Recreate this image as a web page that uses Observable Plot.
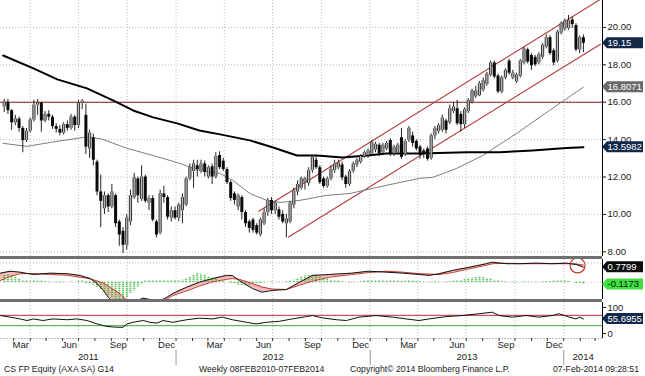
<!DOCTYPE html>
<html><head><meta charset="utf-8">
<script src="https://cdn.jsdelivr.net/npm/d3@7"></script>
<script src="https://cdn.jsdelivr.net/npm/@observablehq/plot@0.6"></script>
<style>
body{margin:0;background:#fff;}
#chart{position:relative;width:645px;height:376px;overflow:hidden;font-family:"Liberation Sans",Arial,sans-serif;}
#chart svg{position:absolute;left:0;}
.bar{position:absolute;left:0;width:602px;height:3px;background:#6f6f6f}
.foot{position:absolute;top:364px;font-size:8.7px;color:#1a1a1a;white-space:nowrap;line-height:10px}
</style></head><body><div id="chart"></div>
<script>
// ---------- data ----------
const firstWeek = "2011-02-11"; // weekly candles, one per week
const opens = [15.75,16.0,15.55,14.9,15.1,14.6,13.95,14.45,15.05,15.85,15.95,15.0,15.35,15.2,14.7,14.55,14.35,14.8,14.6,15.2,14.75,15.95,15.3,13.5,14.1,12.8,11.2,10.3,11.0,10.4,11.0,9.6,9.1,8.35,9.6,10.9,11.9,10.8,12.0,10.6,10.85,9.6,9.0,11.1,10.9,9.8,10.2,9.8,10.2,10.5,11.9,12.3,12.6,12.3,12.7,12.0,12.55,12.0,13.15,12.85,12.4,11.7,11.1,10.4,10.9,10.1,9.6,9.7,9.4,8.9,9.5,10.1,10.75,10.2,10.25,10.0,9.5,9.6,10.5,11.2,11.4,11.7,11.65,12.35,12.9,12.5,11.9,11.5,11.9,12.35,12.5,12.65,12.0,11.6,12.3,12.65,12.8,13.1,13.15,13.25,13.45,13.7,13.3,13.5,13.95,13.25,13.3,14.1,13.2,13.95,14.2,13.9,13.6,13.4,13.5,13.0,14.2,14.45,14.5,15.0,14.9,15.5,15.65,15.35,14.8,15.5,16.0,16.3,16.35,16.65,16.95,17.45,18.1,17.4,16.55,17.3,18.2,17.3,17.1,17.4,18.1,18.8,18.5,18.4,18.1,18.4,18.95,19.45,18.75,18.2,19.7,19.9,19.95,20.4,20.1,18.8,19.45];
const highs = [16.15,16.15,15.6,15.3,15.2,14.7,14.6,15.15,16.1,16.15,16.0,15.5,15.55,15.3,14.85,14.75,14.9,15.0,15.35,15.3,16.1,16.15,15.9,14.5,14.3,12.9,12.1,11.2,11.1,11.6,11.1,9.7,9.3,10.0,11.3,12.2,12.0,12.6,12.1,11.0,11.0,9.7,11.3,11.5,11.0,10.4,10.4,10.6,11.1,12.0,12.7,12.9,12.9,12.9,12.85,12.6,12.7,13.3,13.35,13.0,12.5,11.8,11.2,11.1,11.0,10.2,9.7,9.8,9.5,9.8,10.3,10.85,10.9,10.7,10.4,10.2,10.0,10.7,11.4,11.8,12.0,12.0,12.5,13.15,13.1,12.6,12.0,12.0,12.6,12.9,12.9,12.8,12.1,12.4,12.8,13.0,13.2,13.4,13.5,13.95,13.85,13.8,13.8,13.9,14.05,13.7,13.8,14.6,14.0,14.7,14.4,14.0,13.7,13.5,13.6,14.3,14.7,14.85,15.3,15.1,15.85,16.0,16.1,15.5,15.7,16.2,16.7,16.85,17.1,17.3,17.6,18.2,18.2,17.5,17.4,17.8,18.3,17.7,17.55,18.3,18.95,18.9,18.6,18.5,18.65,19.15,19.6,19.55,18.85,19.85,20.3,20.45,20.64,20.55,20.2,19.55,19.6];
const lows = [15.45,15.35,14.5,14.75,14.4,13.3,13.85,14.35,14.95,15.3,14.4,14.9,15.0,14.55,14.35,14.2,14.25,14.45,14.5,14.45,14.6,15.6,13.2,13.0,12.6,11.0,9.3,10.0,10.1,10.3,9.3,8.3,7.9,8.1,9.4,10.8,10.6,10.7,10.6,10.2,9.6,8.75,8.9,10.6,9.7,9.6,9.7,9.6,9.5,10.4,11.8,11.4,12.0,12.2,12.0,11.9,11.6,11.9,12.4,12.3,11.6,10.7,10.5,10.2,9.7,9.3,9.0,9.0,8.9,8.8,9.4,9.9,10.0,10.0,9.7,9.5,8.75,9.5,10.3,11.0,11.3,11.3,11.5,12.2,12.4,11.6,11.4,11.4,11.8,12.2,12.4,11.8,11.4,11.5,12.2,12.5,12.7,13.0,13.0,13.1,13.3,13.1,13.2,13.4,13.1,13.1,13.2,12.95,13.1,13.85,13.6,13.4,12.95,13.0,12.85,12.9,14.0,14.3,14.4,14.3,14.8,15.4,14.75,14.4,14.6,15.4,15.9,16.2,16.3,16.55,16.85,17.35,17.25,16.45,16.45,17.2,17.45,17.2,17.0,17.3,18.0,18.05,17.7,17.9,18.0,18.3,18.85,18.5,17.95,18.1,19.6,19.8,19.85,19.95,18.7,18.6,18.65];
const closes = [16.0,15.55,14.9,15.1,14.6,13.95,14.45,15.05,15.85,15.95,15.0,15.35,15.2,14.7,14.55,14.35,14.8,14.6,15.2,14.75,15.95,16.05,13.6,14.35,12.9,11.2,10.7,11.0,10.4,11.2,9.5,8.9,8.35,9.8,11.0,11.95,11.0,12.0,10.7,10.85,9.7,8.9,11.1,10.9,9.85,10.2,9.8,10.5,10.9,11.9,12.5,12.7,12.4,12.7,12.25,12.5,12.0,13.1,12.5,12.4,11.7,10.85,10.75,11.0,10.1,9.5,9.25,9.15,9.0,9.7,10.1,10.75,10.2,10.6,9.85,9.6,9.75,10.6,11.25,11.6,11.9,11.9,12.35,13.05,12.5,11.7,11.5,11.9,12.4,12.7,12.75,11.95,11.6,12.3,12.7,12.9,13.1,13.3,13.4,13.85,13.75,13.25,13.7,13.8,13.25,13.6,13.7,13.05,13.9,14.6,13.8,13.5,13.15,13.2,12.95,14.2,14.6,14.75,15.15,14.5,15.65,15.75,14.85,14.8,15.6,16.1,16.6,16.6,17.0,17.15,17.5,18.1,17.35,16.55,17.3,17.7,17.55,17.55,17.45,18.2,18.85,18.15,17.95,18.0,18.55,19.05,19.45,18.6,18.1,19.75,20.2,20.35,20.35,20.15,18.8,19.45,19.15];
// MACD histogram, one per week
const macdHist = [0.35,0.4,0.35,0.3,0.2,0.1,0.05,0.03,0.05,0.07,0.05,0.03,0.02,0,-0.02,-0.03,-0.02,0,0.02,0,0.04,0.05,-0.05,-0.1,-0.15,-0.25,-0.4,-0.55,-0.7,-0.85,-0.95,-0.95,-0.9,-0.8,-0.6,-0.45,-0.25,-0.12,0.08,0.1,0.08,0.05,0.08,0.1,0.06,0.05,0.08,0.1,0.12,0.15,0.25,0.35,0.45,0.42,0.38,0.3,0.22,0.15,0.08,0.05,0,-0.05,-0.1,-0.15,-0.18,-0.17,-0.15,-0.12,-0.08,-0.05,-0.02,0,0.02,0,0.01,0,0.03,0.06,0.12,0.2,0.28,0.34,0.38,0.4,0.36,0.3,0.22,0.15,0.1,0.08,0.06,0.03,0,-0.03,-0.02,0,0.02,0.05,0.08,0.1,0.1,0.08,0.06,0.05,0.06,0.07,0.05,0.04,0.05,0.06,0.05,0.04,0.03,0.02,0,-0.02,-0.03,-0.02,0,0.02,0.03,0.05,0.06,0.1,0.14,0.18,0.22,0.25,0.26,0.24,0.2,0.15,0.1,0.06,0.03,0.02,0,-0.02,-0.02,0,0.02,0.02,0,-0.01,0,0.02,0.03,0.03,0.05,0.06,0.06,0.05,0.04,0,-0.05,-0.09,-0.1173];
// moving averages [date, value]
const maSlow = [["2011-02-09",18.50],["2011-04-07",17.81],["2011-05-22",17.22],["2011-07-17",16.74],["2011-09-04",16.10],["2011-10-12",15.56],["2011-11-19",15.19],["2012-01-03",14.87],["2012-02-14",14.49],["2012-03-24",14.28],["2012-05-19",13.96],["2012-07-02",13.58],["2012-08-16",13.15],["2012-09-22",13.15],["2012-11-10",13.05],["2012-12-26",13.15],["2013-02-01",13.26],["2013-04-04",13.26],["2013-07-02",13.32],["2013-09-02",13.32],["2013-11-03",13.42],["2014-01-06",13.55],["2014-02-07",13.5982]];
const maFast = [["2011-02-09",13.80],["2011-03-26",13.64],["2011-05-09",13.85],["2011-07-10",14.12],["2011-08-11",14.06],["2011-10-01",13.53],["2011-11-19",13.15],["2012-01-08",12.73],["2012-02-14",12.35],["2012-03-24",12.19],["2012-04-17",11.82],["2012-05-19",11.12],["2012-06-20",10.75],["2012-07-15",10.64],["2012-08-21",10.75],["2012-10-11",11.02],["2012-11-24",11.12],["2013-01-13",11.44],["2013-02-26",11.71],["2013-04-04",11.93],["2013-04-29",11.98],["2013-06-13",12.46],["2013-08-01",13.15],["2013-10-04",14.33],["2013-12-05",15.56],["2014-02-07",16.8071]];
// trend channel and resistance
const channelUpper = [["2012-06-05",10.17],["2014-03-11",21.5]];
const channelLower = [["2012-07-31",8.79],["2014-03-11",19.1]];
const resistance = 16.0;
// MACD and signal lines [date, macd, signal]
const macdLines = [["2011-02-04",0.47,0.09],["2011-02-22",0.57,0.30],["2011-03-13",0.52,0.44],["2011-04-07",0.40,0.45],["2011-05-09",0.47,0.40],["2011-06-10",0.44,0.36],["2011-07-04",0.35,0.26],["2011-07-23",0.19,0.18],["2011-08-05",-0.07,0.06],["2011-08-17",-0.43,-0.05],["2011-08-26",-0.78,-0.2],["2011-09-03",-1.0,-0.35],["2011-09-12",-1.2,-0.5],["2011-09-18",-1.3,-0.62],["2011-10-01",-1.3,-0.95],["2011-10-07",-1.3,-1.05],["2011-10-20",-0.95,-1.1],["2011-10-31",-0.83,-1.1],["2011-11-13",-0.9,-1.08],["2011-11-26",-1.0,-1.05],["2011-12-11",-0.85,-0.95],["2011-12-26",-0.59,-0.69],["2012-01-21",-0.26,-0.45],["2012-02-14",0.0,-0.2],["2012-03-10",0.19,0.02],["2012-04-05",0.35,0.15],["2012-04-16",0.35,0.19],["2012-04-29",0.09,0.15],["2012-05-24",-0.33,-0.07],["2012-06-11",-0.52,-0.25],["2012-06-30",-0.43,-0.36],["2012-07-27",-0.38,-0.38],["2012-08-21",0.0,-0.15],["2012-09-14",0.35,0.05],["2012-10-16",0.40,0.26],["2012-11-27",0.47,0.40],["2012-12-29",0.57,0.50],["2013-02-01",0.52,0.57],["2013-03-03",0.47,0.52],["2013-04-03",0.40,0.44],["2013-04-22",0.35,0.42],["2013-05-11",0.44,0.40],["2013-06-05",0.61,0.50],["2013-07-07",0.78,0.70],["2013-08-08",0.96,0.88],["2013-08-19",1.04,0.96],["2013-09-15",0.96,0.98],["2013-10-09",0.96,0.96],["2013-11-10",0.99,0.96],["2013-12-10",0.96,0.96],["2014-01-06",0.99,0.96],["2014-01-24",0.92,0.95],["2014-02-07",0.7799,0.89]];
const macdCircle = [["2014-01-27",0.87]];
// RSI [date, value]
const rsi = [["2011-02-04",69],["2011-02-22",63],["2011-03-13",56],["2011-03-26",50],["2011-04-07",56],["2011-04-25",50],["2011-05-14",56],["2011-06-10",53],["2011-06-28",56],["2011-07-17",50],["2011-08-05",37],["2011-08-24",27],["2011-09-12",24],["2011-09-23",24],["2011-10-01",37],["2011-10-12",43],["2011-10-31",50],["2011-11-13",43],["2011-11-26",40],["2011-12-07",50],["2011-12-26",43],["2012-01-21",53],["2012-02-14",59],["2012-03-10",56],["2012-03-28",63],["2012-04-16",53],["2012-05-13",43],["2012-05-31",37],["2012-06-19",43],["2012-07-14",47],["2012-08-07",56],["2012-09-03",65],["2012-09-14",69],["2012-10-03",60],["2012-10-29",53],["2012-11-17",50],["2012-12-11",63],["2013-01-12",69],["2013-02-12",63],["2013-03-10",56],["2013-04-03",50],["2013-04-22",56],["2013-05-24",65],["2013-06-23",69],["2013-07-25",76],["2013-08-19",82],["2013-09-01",69],["2013-09-26",63],["2013-10-22",69],["2013-11-15",63],["2013-12-10",69],["2013-12-23",76],["2014-01-11",63],["2014-01-24",56],["2014-01-31",63],["2014-02-07",55.6955]];
const rsiLevels = {over: 70, under: 30};
// ticks & labels
const priceTicks = [8,10,12,14,16,18,20];
const rsiTicks = [0,100];
const quarterStarts = ["2011-04-01","2011-07-01","2011-10-01","2012-01-01","2012-04-01","2012-07-01","2012-10-01","2013-01-01","2013-04-01","2013-07-01","2013-10-01","2014-01-01"];
const monthLabels = ["2011-03-14","2011-06-14","2011-09-14","2011-12-14","2012-03-14","2012-06-14","2012-09-14","2012-12-14","2013-03-14","2013-06-14","2013-09-14","2013-12-14"];
const years = ["2011","2012","2013","2014"];
const footer = ["CS FP Equity (AXA SA) G14","Weekly 08FEB2010-07FEB2014","Copyright\u00A9 2014 Bloomberg Finance L.P.","07-Feb-2014 09:28:51"];

// ---------- build ----------
const W = 645, MR = 43;
const xDomain = [new Date("2011-02-04"), new Date("2014-03-15")];
const D = s => new Date(s);
const candles = opens.map((o,i)=>({date: d3.utcDay.offset(D(firstWeek), 7*i), open:o, high:highs[i], low:lows[i], close:closes[i], hist:macdHist[i]}));
const up = candles.filter(d=>d.close>=d.open), down = candles.filter(d=>d.close<d.open);
const pts = a => a.map(([d,v])=>({date:D(d), value:v}));
const macdData = macdLines.map(([d,m,s])=>({date:D(d), macd:m, signal:s}));
const qDates = quarterStarts.map(D);
const grid = {stroke:"#bdbdbd", strokeOpacity:1, strokeDasharray:"1,2"};
const style = {fontFamily:"Liberation Sans, Arial, sans-serif", fontSize:"9.5px", color:"#1a1a1a", background:"transparent", overflow:"visible"};
const xScale = {type:"utc", domain:xDomain};

const chart = document.getElementById("chart");
function place(svg, top){ svg.style.top = top+"px"; chart.appendChild(svg); }
function tag(svg, yy, label, bg, fg){
  const g = d3.select(svg).append("g").attr("text-anchor","start");
  g.append("path").attr("d",`M602,${yy}L607,${yy-5.5}L643,${yy-5.5}L643,${yy+5.5}L607,${yy+5.5}Z`).attr("fill",bg);
  g.append("text").attr("x",607.5).attr("y",yy).attr("dy","0.36em").attr("fill",fg).attr("text-anchor","start")
   .attr("font-size",9.5).attr("font-family","Liberation Sans, Arial, sans-serif").text(label);
}

// main price panel
const main = Plot.plot({
  width:W, height:256, marginLeft:0, marginRight:MR, marginTop:0, marginBottom:0, style,
  x:{...xScale, axis:null},
  y:{domain:[7.75,21.44]},
  marks:[
    Plot.gridY(priceTicks, grid),
    Plot.gridX(qDates, grid),
    Plot.ruleY([resistance], {stroke:"#8e1c1c", strokeWidth:1.1}),
    Plot.line(pts(channelUpper), {x:"date", y:"value", stroke:"#b03a3a", strokeWidth:1.1, clip:true}),
    Plot.line(pts(channelLower), {x:"date", y:"value", stroke:"#b03a3a", strokeWidth:1.1, clip:true}),
    Plot.line(pts(maFast), {x:"date", y:"value", stroke:"#7d7d7d", strokeWidth:1}),
    Plot.line(pts(maSlow), {x:"date", y:"value", stroke:"#000", strokeWidth:2}),
    Plot.ruleX(candles, {x:"date", y1:"low", y2:"high", stroke:"#222", strokeWidth:1}),
    Plot.ruleX(down, {x:"date", y1:"open", y2:"close", stroke:"#0a0a0a", strokeWidth:3}),
    Plot.ruleX(up, {x:"date", y1:"open", y2:"close", stroke:"#333", strokeWidth:3.2}),
    Plot.ruleX(up, {x:"date", y1:"open", y2:"close", stroke:"#b8b8b8", strokeWidth:1.3}),
    Plot.axisY(priceTicks, {anchor:"right", tickSize:3, tickPadding:2, tickFormat:d3.format(".2f"), label:null}),
    Plot.ruleX([xDomain[1]], {stroke:"#000"})
  ]
});
place(main, 0);
{ const y = main.scale("y");
  tag(main, y.apply(closes[closes.length-1]), d3.format(".2f")(closes[closes.length-1]), "#13284a", "#fff");
  tag(main, y.apply(maFast[maFast.length-1][1]), d3.format(".4f")(maFast[maFast.length-1][1]), "#6a6a6a", "#fff");
  tag(main, y.apply(maSlow[maSlow.length-1][1]), d3.format(".4f")(maSlow[maSlow.length-1][1]), "#13284a", "#fff"); }

// MACD panel
const macdPlot = Plot.plot({
  width:W, height:40, marginLeft:0, marginRight:MR, marginTop:0, marginBottom:0, style,
  x:{...xScale, axis:null},
  y:{domain:[-0.90,1.18], axis:null},
  marks:[
    Plot.gridX(qDates, grid),
    Plot.gridY([0,1], grid),
    Plot.areaY(macdData, {x:"date", y1:"macd", y2:"signal", fill:"#f4b9b9", clip:true}),
    Plot.ruleX(candles, {x:"date", y1:0, y2:"hist", stroke:"#2fb52f", strokeWidth:2, strokeDasharray:"1,1", clip:true}),
    Plot.line(macdData, {x:"date", y:"signal", stroke:"#c0392b", strokeWidth:1, clip:true}),
    Plot.line(macdData, {x:"date", y:"macd", stroke:"#111", strokeWidth:1, clip:true}),
    Plot.dot(pts(macdCircle), {x:"date", y:"value", r:7.5, stroke:"#c0392b", fill:"none", strokeWidth:1.2}),
    Plot.ruleX([xDomain[1]], {stroke:"#000"})
  ]
});
place(macdPlot, 259);
{ const y = macdPlot.scale("y");
  const m = macdLines[macdLines.length-1][1], h = macdHist[macdHist.length-1];
  tag(macdPlot, y.apply(m), d3.format(".4f")(m), "#0d0d0d", "#fff");
  tag(macdPlot, y.apply(h), d3.format(".4f")(h).replace("\u2212","-"), "#3ee03e", "#111"); }

// RSI panel with time axis
const yearCenters = years.map(y => {
  const a = Math.max(+xDomain[0], +D(y+"-01-01")), b = Math.min(+xDomain[1], +D((+y+1)+"-01-01"));
  return {date:new Date((a+b)/2), text:y};
});
const rsiPlot = Plot.plot({
  width:W, height:64, marginLeft:0, marginRight:MR, marginTop:0, marginBottom:28, style,
  x:{...xScale, label:null},
  y:{domain:[-19.2,119.2], label:null},
  marks:[
    Plot.gridX(qDates, grid),
    Plot.frame({anchor:"bottom", ...grid}),
    Plot.ruleY([rsiLevels.over], {stroke:"#b83232", strokeWidth:1}),
    Plot.ruleY([rsiLevels.under], {stroke:"#3aa83a", strokeWidth:1}),
    Plot.line(pts(rsi), {x:"date", y:"value", stroke:"#111", strokeWidth:1}),
    Plot.axisY(rsiTicks, {anchor:"right", tickSize:3, tickPadding:2, label:null}),
    Plot.axisX(d3.utcMonth.range(xDomain[0], xDomain[1]), {tickSize:3, tickFormat:()=>"", label:null, stroke:"#333"}),
    Plot.axisX(monthLabels.map(D), {tickSize:0, tickPadding:3, tickFormat:d3.utcFormat("%b"), label:null}),
    Plot.axisX(years.slice(1).map(y=>D(y+"-01-01")), {tickSize:15, tickPadding:0, dy:12, tickFormat:()=>"", label:null, stroke:"#999"}),
    Plot.text(yearCenters, {x:"date", text:"text", frameAnchor:"bottom", dy:18.5, lineAnchor:"middle", fill:"#1a1a1a"}),
    Plot.ruleX([xDomain[1]], {stroke:"#000"})
  ]
});
place(rsiPlot, 302);
{ const y = rsiPlot.scale("y"); const v = rsi[rsi.length-1][1];
  tag(rsiPlot, y.apply(v), d3.format(".4f")(v), "#13284a", "#fff"); }

// separator bars
[256, 299].forEach(t => { const b = document.createElement("div"); b.className="bar"; b.style.top=t+"px"; chart.appendChild(b); });
// footer
[[4,"left"],[199,"left"],[350,"left"],[639,"right"]].forEach(([x,al],i)=>{
  const s = document.createElement("div"); s.className="foot"; s.textContent = footer[i];
  if (al==="left") s.style.left = x+"px"; else s.style.right = (645-x)+"px";
  chart.appendChild(s);
});
</script></body></html>
